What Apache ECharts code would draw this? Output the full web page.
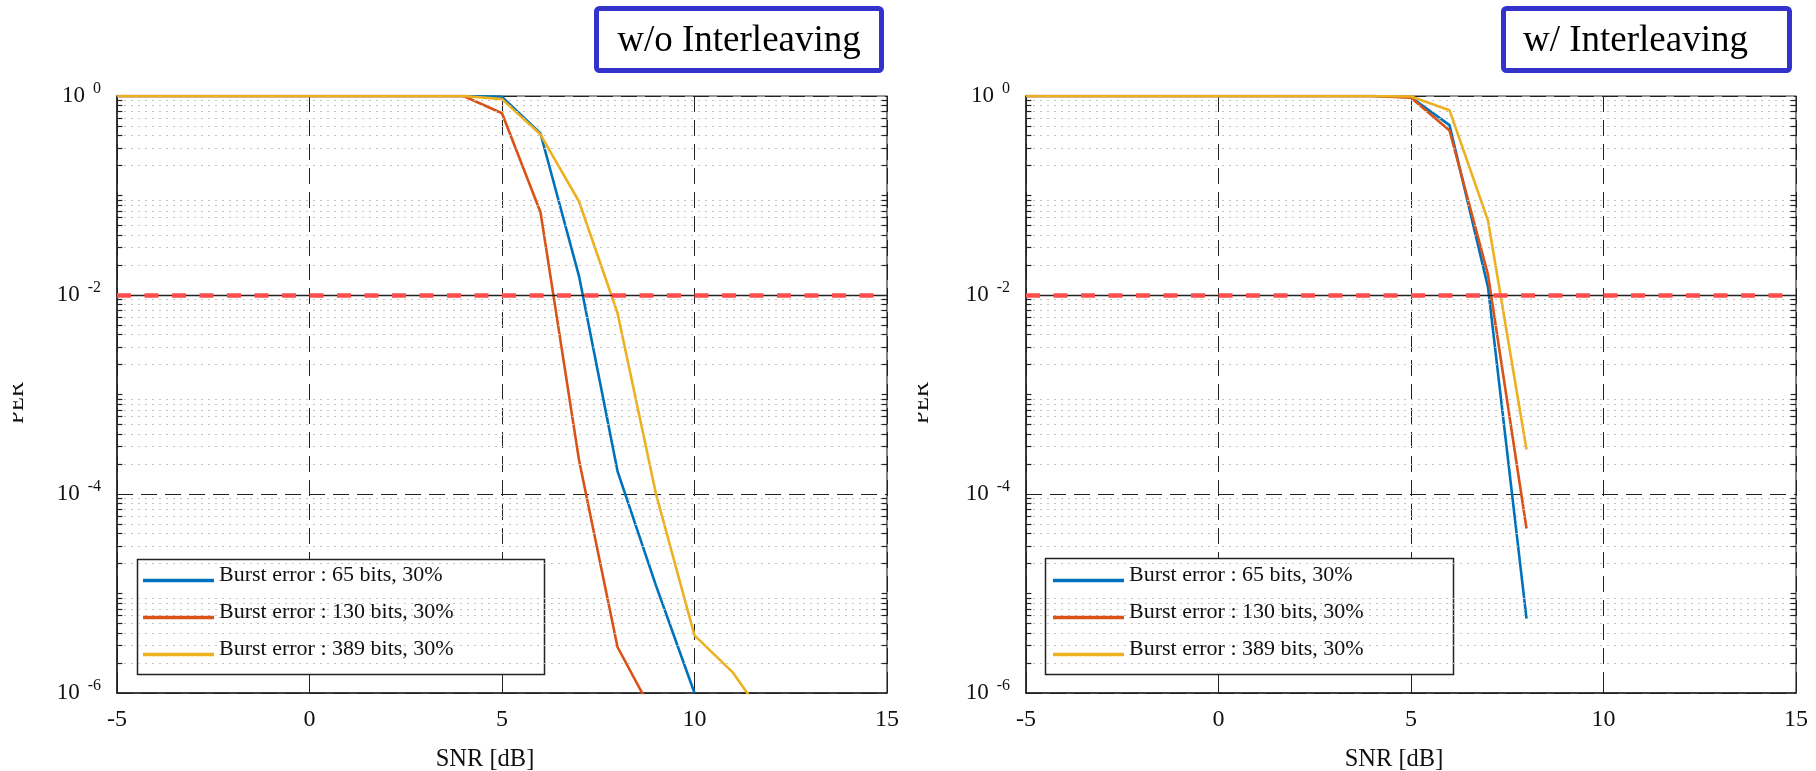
<!DOCTYPE html>
<html>
<head>
<meta charset="utf-8">
<script src="https://cdn.jsdelivr.net/npm/echarts@6/dist/echarts.min.js"></script>
<style>html,body{margin:0;padding:0;background:#fff}#c{width:1816px;height:771px}</style>
</head>
<body>
<div id="c"></div>
<script>
// ---- data ----
const seriesNames = ['Burst error : 65 bits, 30%', 'Burst error : 130 bits, 30%', 'Burst error : 389 bits, 30%'];
const panelTitles = ['w/o Interleaving', 'w/ Interleaving'];
const xTicks = [-5, 0, 5, 10, 15];
const perThreshold = 1e-2;

// w/o Interleaving
const snrLeft     = [-5, -4, -3, -2, -1, 0, 1, 2, 3, 4, 5, 6, 7, 8, 9, 10, 11, 12];
const perLeft65   = [1, 1, 1, 1, 1, 1, 1, 1, 1, 1, 0.98, 0.42, 0.0155, 1.7e-4, 1.2e-5, 1.0e-6, null, null];
const perLeft130  = [1, 1, 1, 1, 1, 1, 1, 1, 1, 1, 0.67, 0.068, 2.2e-4, 2.9e-6, 5.5e-7, null, null, null];
const perLeft389  = [1, 1, 1, 1, 1, 1, 1, 1, 1, 1, 0.93, 0.41, 0.087, 0.0066, 1.0e-4, 3.8e-6, 1.6e-6, 4.5e-7];

// w/ Interleaving
const snrRight    = [-5, -4, -3, -2, -1, 0, 1, 2, 3, 4, 5, 6, 7, 8];
const perRight65  = [1, 1, 1, 1, 1, 1, 1, 1, 1, 1, 0.97, 0.51, 0.012, 5.6e-6];
const perRight130 = [1, 1, 1, 1, 1, 1, 1, 1, 1, 1, 0.96, 0.45, 0.016, 4.5e-5];
const perRight389 = [1, 1, 1, 1, 1, 1, 1, 1, 1, 1, 0.99, 0.72, 0.056, 2.8e-4];

// ---- styling ----
const FONT = 'Liberation Serif';
const colors = ['#0072BD', '#D95319', '#EDB120'];
const gridsPx = [{left: 117, top: 96, width: 770, height: 597}, {left: 1026, top: 96, width: 770, height: 597}];

function zip(xs, ys) { return xs.map((x, i) => [x, ys[i]]); }

// decoration positions for the log axis (minor grid / ticks)
const minorVals = [];
const majorOddVals = [];
for (let k = -6; k < 0; k++) {
  for (let m = 2; m <= 9; m++) minorVals.push(m * Math.pow(10, k));
  if (k % 2 !== 0) majorOddVals.push(Math.pow(10, k));
}
const tickVals = minorVals.concat(majorOddVals);

const option = {
  animation: false,
  backgroundColor: '#fff',
  grid: gridsPx.map(g => Object.assign({show: true, borderColor: '#333', borderWidth: 1.2,
    backgroundColor: 'transparent', containLabel: false, outerBoundsMode: 'none'}, g)),
  xAxis: [0, 1].map(i => ({
    gridIndex: i, type: 'value', min: -5, max: 15, interval: 5,
    axisLine: {show: true, onZero: false, lineStyle: {color: '#222', width: 1.5}},
    axisTick: {show: true, inside: true, length: 6, lineStyle: {color: '#222'}},
    axisLabel: {fontFamily: FONT, fontSize: 24, color: '#111', margin: 15,
      formatter: v => xTicks.indexOf(v) >= 0 ? String(v) : ''},
    splitLine: {show: true, lineStyle: {color: '#222', type: [16, 8], width: 1}},
    name: 'SNR [dB]', nameLocation: 'middle', nameGap: 54,
    nameTextStyle: {fontFamily: FONT, fontSize: 24.5, color: '#111', padding: [0, 34, 0, 0]}
  })),
  yAxis: [0, 1].map(i => ({
    gridIndex: i, type: 'log', logBase: 10, min: 1e-6, max: 1, interval: 2,
    axisLine: {show: true, onZero: false, lineStyle: {color: '#222', width: 1.5}},
    axisTick: {show: true, inside: true, length: 8, lineStyle: {color: '#222'}},
    axisLabel: {
      margin: 16,
      formatter: v => '{b|10}{s|' + Math.round(Math.log10(v)) + '}',
      rich: {
        b: {fontFamily: FONT, fontSize: 23, color: '#111'},
        s: {fontFamily: FONT, fontSize: 16, color: '#111', padding: [0, 0, 15, 8]}
      }
    },
    splitLine: {show: true, lineStyle: {color: '#222', type: [16, 8], width: 1}}
  })),
  legend: [0, 1].map(i => ({
    orient: 'vertical', left: i === 0 ? 143 : 1053, top: 564, padding: 0,
    icon: 'rect', itemWidth: 71, itemHeight: 3.5, itemGap: 15, selectedMode: false,
    formatter: name => '{t|' + name + '}',
    textStyle: {fontFamily: FONT, fontSize: 22, color: '#111',
      rich: {t: {fontFamily: FONT, fontSize: 22, color: '#111', padding: [0, 0, 11, 0]}}},
    data: seriesNames, z: 6
  })),
  graphic: [],
  series: []
};

// per-panel series
const panels = [
  {snr: snrLeft, ys: [perLeft65, perLeft130, perLeft389]},
  {snr: snrRight, ys: [perRight65, perRight130, perRight389]}
];
panels.forEach((p, i) => {
  // decoration: minor dotted grid, y minor ticks, threshold base line
  option.series.push({
    type: 'line', xAxisIndex: i, yAxisIndex: i, data: [[-5, 1]], symbol: 'none', silent: true,
    lineStyle: {width: 0, opacity: 0}, z: 1,
    markLine: {
      silent: true, symbol: 'none', label: {show: false}, animation: false, precision: 10,
      lineStyle: {color: '#c4c4c4', type: [2, 5], width: 1},
      data: minorVals.map(v => [{coord: [-5, v]}, {coord: [15, v]}])
        .concat(tickVals.map(v => [{coord: [-5, v], lineStyle: {color: '#222', type: 'solid', width: 1.2}}, {coord: [-4.86, v]}]))
        .concat(tickVals.map(v => [{coord: [14.86, v], lineStyle: {color: '#222', type: 'solid', width: 1.2}}, {coord: [15, v]}]))
        .concat([[{coord: [-5, perThreshold], lineStyle: {color: '#222', type: 'solid', width: 1.4}}, {coord: [15, perThreshold]}]])
    }
  });
  p.ys.forEach((ys, k) => {
    option.series.push({
      name: seriesNames[k], type: 'line', xAxisIndex: i, yAxisIndex: i,
      data: zip(p.snr, ys), showSymbol: false, symbol: 'none', connectNulls: false,
      lineStyle: {color: colors[k], width: 2.6}, itemStyle: {color: colors[k]}, z: 3, clip: true
    });
  });
  option.series.push({
    type: 'line', xAxisIndex: i, yAxisIndex: i, data: [[-5, 1]], symbol: 'none', silent: true,
    lineStyle: {width: 0, opacity: 0}, z: 4,
    markLine: {
      silent: true, symbol: 'none', label: {show: false}, animation: false,
      lineStyle: {color: '#FF4D4D', type: [14, 13.5], width: 4.5},
      data: [[{coord: [-5, perThreshold]}, {coord: [15, perThreshold]}]]
    }
  });
});

// legend boxes, title boxes, clipped "PER" labels
const legendBoxes = [{x: 137, y: 559, w: 407, h: 115}, {x: 1045, y: 558, w: 408, h: 116}];
legendBoxes.forEach(b => option.graphic.push({
  type: 'rect', z: 5, silent: true,
  shape: {x: b.x + 0.5, y: b.y + 0.5, width: b.w, height: b.h},
  style: {fill: '#fff', stroke: '#222', lineWidth: 1.5}
}));
const titleBoxes = [{x: 596.5, y: 8.5, w: 285, h: 62, tx: 739, align: 'center'}, {x: 1503.5, y: 8.5, w: 286, h: 62, tx: 1523, align: 'left'}];
titleBoxes.forEach((b, i) => {
  option.graphic.push({
    type: 'rect', z: 5, silent: true,
    shape: {x: b.x, y: b.y, width: b.w, height: b.h, r: 3},
    style: {fill: '#fff', stroke: '#3333CC', lineWidth: 5}
  });
  option.graphic.push({
    type: 'text', z: 6, silent: true, x: b.tx, y: 41,
    style: {text: panelTitles[i], font: '37px "' + FONT + '"', fill: '#000', align: b.align, verticalAlign: 'middle'}
  });
});
[{x: 28, cut: 13}, {x: 933, cut: 918}].forEach(p => {
  option.graphic.push({
    type: 'text', z: 6, silent: true, x: p.x, y: 403, rotation: Math.PI / 2,
    style: {text: 'PER', font: '23px "' + FONT + '"', fill: '#111', align: 'center', verticalAlign: 'bottom'}
  });
  option.graphic.push({
    type: 'rect', z: 7, silent: true,
    shape: {x: p.cut - 30, y: 360, width: 30, height: 90},
    style: {fill: '#fff'}
  });
});

const chart = echarts.init(document.getElementById('c'), null, {renderer: 'canvas'});
chart.setOption(option);
</script>
</body>
</html>
